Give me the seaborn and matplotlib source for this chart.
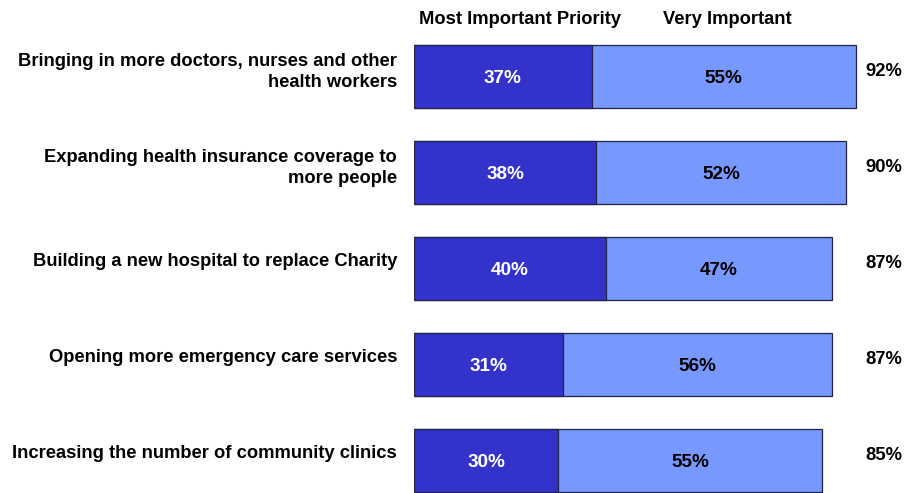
import matplotlib
matplotlib.use("Agg")
import matplotlib.pyplot as plt
import seaborn as sns
import pandas as pd

categories = [
    "Bringing in more doctors, nurses and other\nhealth workers",
    "Expanding health insurance coverage to\nmore people",
    "Building a new hospital to replace Charity",
    "Opening more emergency care services",
    "Increasing the number of community clinics",
]
most_important = [37, 38, 40, 31, 30]
very_important = [55, 52, 47, 56, 55]
totals = [92, 90, 87, 87, 85]
series_names = ["Most Important Priority", "Very Important"]

dark = "#3333CC"
light = "#7799FF"

sns.set_theme(style="white")
plt.rcParams["font.family"] = ["Liberation Sans", "DejaVu Sans"]
plt.rcParams["font.weight"] = "bold"
plt.rcParams["text.color"] = "black"

df = pd.DataFrame({
    "category": categories,
    "most": most_important,
    "very": very_important,
})
df["stack"] = df["most"] + df["very"]

fig = plt.figure(figsize=(9.06, 4.93), dpi=100)
ax = fig.add_axes([414 / 906, 0, 480 / 906, 1])

bar_kw = dict(orient="h", width=0.656, edgecolor="#222244",
              linewidth=0.9, saturation=1, ax=ax)
# full stack (light) first, then the "most important" part over it
sns.barplot(data=df, y="category", x="stack", color=light, **bar_kw)
sns.barplot(data=df, y="category", x="most", color=dark, **bar_kw)

ax.set_xlim(0, 100)
ax.set_ylim(4.339, -0.797)
ax.set_xlabel("")
ax.set_ylabel("")
ax.set_xticks([])
ax.set_yticks([])
for s in ax.spines.values():
    s.set_visible(False)

fs_label = 13.2
fs_bar = 13.6
for i, (m, v, t) in enumerate(zip(most_important, very_important, totals)):
    ax.text(m / 2, i + 0.02, f"{m}%", ha="center", va="center",
            color="white", fontsize=fs_bar, fontweight="bold")
    ax.text(m + v / 2, i + 0.02, f"{v}%", ha="center", va="center",
            color="black", fontsize=fs_bar, fontweight="bold")
    ax.text(94, i - 0.005, f"{t}%", ha="left", va="baseline",
            color="black", fontsize=fs_label, fontweight="bold")
    nlines = categories[i].count("\n") + 1
    ax.text(-3.54, i - 0.076 + 0.031 * (nlines - 1), categories[i],
            ha="right", va="center", color="black", fontsize=fs_label,
            fontweight="bold", linespacing=1.27, clip_on=False)

# series headers above the first bar
ax.text(22.1, -0.547, series_names[0], ha="center", va="baseline",
        fontsize=fs_label, fontweight="bold")
ax.text(65.2, -0.547, series_names[1], ha="center", va="baseline",
        fontsize=fs_label, fontweight="bold")

fig.savefig("out.png", dpi=100)
